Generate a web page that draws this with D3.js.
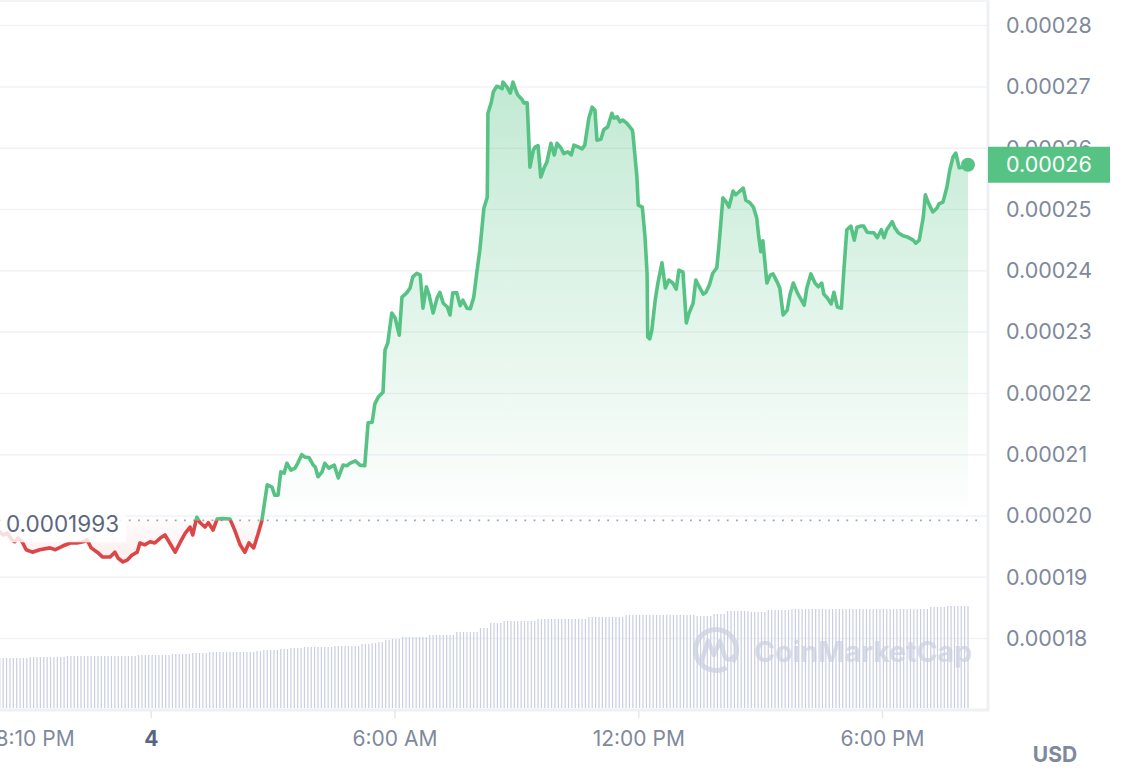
<!DOCTYPE html>
<html>
<head>
<meta charset="utf-8">
<script src="https://cdn.jsdelivr.net/npm/d3@7"></script>
<style>
  body { margin: 0; background: #fff; font-family: Inter, "Noto Sans", sans-serif; }
  svg { display: block; }
</style>
</head>
<body>
<svg id="chart"></svg>
<script>
// ---- data ----
const startTime = new Date(2024, 0, 3, 20, 7);   // first sample, 24h window
const openPrice = 0.0001993;                       // reference (24h ago) price

// minutes after startTime
const minutes = [
  0,10,15,21,28,32,37,43,49,58,
  69,84,92,103,114,124,133,139,145,154,
  162,173,180,185,192,198,205,213,217,224,
  232,239,247,254,261,269,276,284,291,295,
  301,306,313,318,325,331,338,350,357,365,
  372,378,385,391,397,402,405,412,416,421,
  425,430,434,440,446,450,456,461,467,473,
  476,480,486,490,496,504,510,517,523,527,
  535,542,549,554,560,564,569,576,579,583,
  589,594,600,604,611,616,620,626,631,635,
  640,644,650,656,660,665,671,675,679,685,
  690,694,700,705,710,715,719,725,730,731,
  736,739,744,747,752,753,759,764,768,773,
  775,781,784,789,793,798,801,805,809,814,
  818,824,829,833,839,843,849,854,858,864,
  870,874,880,885,889,892,898,902,908,914,
  917,922,926,930,936,944,945,951,953,959,
  963,966,967,970,973,978,982,988,993,998,
  1004,1009,1013,1019,1024,1028,1034,1038,1043,1049,
  1053,1058,1063,1069,1072,1078,1083,1087,1093,1097,
  1102,1108,1112,1118,1123,1128,1131,1134,1137,1143,
  1148,1152,1158,1162,1167,1173,1177,1182,1188,1193,
  1198,1202,1208,1214,1219,1224,1227,1232,1238,1242,
  1247,1253,1257,1261,1267,1272,1276,1282,1286,1291,
  1297,1301,1306,1312,1316,1320,1328,1332,1337,1344,
  1351,1359,1363,1368,1374,1377,1381,1388,1394,1397,
  1403,1409,1413,1418,1422,1427,1433,1440
];

// price in USD
const prices = [
  0.0001969,0.0001974,0.0001969,0.0001972,0.0001961,0.0001958,0.0001964,0.0001958,0.0001945,0.0001941,
  0.0001945,0.0001948,0.0001945,0.0001951,0.0001956,0.0001956,0.0001958,0.0001961,0.0001948,0.0001941,
  0.0001933,0.0001933,0.0001941,0.0001931,0.0001925,0.0001928,0.0001936,0.0001941,0.0001956,0.0001953,
  0.0001958,0.0001956,0.0001964,0.0001969,0.0001956,0.0001941,0.0001956,0.0001972,0.0001982,0.0001969,
  0.0001998,0.0001989,0.0001982,0.0001989,0.0001977,0.0001995,0.0001996,0.0001995,0.0001977,0.0001953,
  0.0001941,0.0001956,0.0001948,0.0001969,0.0001992,0.0002029,0.0002051,0.0002047,0.0002034,0.0002034,
  0.0002072,0.0002070,0.0002086,0.0002075,0.0002078,0.0002086,0.0002100,0.0002096,0.0002095,0.0002083,
  0.0002080,0.0002064,0.0002072,0.0002086,0.0002078,0.0002083,0.0002062,0.0002083,0.0002082,0.0002086,
  0.0002090,0.0002083,0.0002082,0.0002152,0.0002153,0.0002183,0.0002194,0.0002202,0.0002271,0.0002282,
  0.0002331,0.0002323,0.0002295,0.0002357,0.0002364,0.0002372,0.0002390,0.0002396,0.0002393,0.0002339,
  0.0002374,0.0002361,0.0002331,0.0002356,0.0002365,0.0002347,0.0002341,0.0002328,0.0002364,0.0002364,
  0.0002343,0.0002352,0.0002339,0.0002338,0.0002357,0.0002401,0.0002434,0.0002502,0.0002520,0.0002657,
  0.0002675,0.0002692,0.0002701,0.0002700,0.0002697,0.0002708,0.0002700,0.0002690,0.0002708,0.0002692,
  0.0002687,0.0002680,0.0002674,0.0002674,0.0002569,0.0002597,0.0002602,0.0002604,0.0002553,0.0002568,
  0.0002577,0.0002608,0.0002589,0.0002608,0.0002600,0.0002591,0.0002594,0.0002589,0.0002605,0.0002602,
  0.0002599,0.0002605,0.0002649,0.0002667,0.0002662,0.0002613,0.0002615,0.0002630,0.0002635,0.0002657,
  0.0002649,0.0002651,0.0002643,0.0002646,0.0002641,0.0002630,0.0002625,0.0002553,0.0002507,0.0002504,
  0.0002455,0.0002396,0.0002292,0.0002289,0.0002303,0.0002352,0.0002380,0.0002413,0.0002372,0.0002385,
  0.0002380,0.0002370,0.0002401,0.0002398,0.0002315,0.0002331,0.0002347,0.0002385,0.0002374,0.0002362,
  0.0002365,0.0002377,0.0002396,0.0002405,0.0002439,0.0002519,0.0002512,0.0002504,0.0002530,0.0002524,
  0.0002529,0.0002535,0.0002515,0.0002511,0.0002504,0.0002486,0.0002455,0.0002431,0.0002449,0.0002380,
  0.0002393,0.0002395,0.0002382,0.0002372,0.0002328,0.0002336,0.0002361,0.0002380,0.0002364,0.0002354,
  0.0002344,0.0002372,0.0002395,0.0002380,0.0002374,0.0002380,0.0002362,0.0002356,0.0002346,0.0002365,
  0.0002341,0.0002339,0.0002406,0.0002467,0.0002473,0.0002450,0.0002471,0.0002473,0.0002473,0.0002463,
  0.0002462,0.0002462,0.0002454,0.0002467,0.0002454,0.0002467,0.0002480,0.0002470,0.0002462,0.0002457,
  0.0002455,0.0002450,0.0002445,0.0002450,0.0002488,0.0002524,0.0002512,0.0002496,0.0002502,0.0002509,
  0.0002512,0.0002537,0.0002564,0.0002586,0.0002592,0.0002568,0.0002569,0.0002573
];

// volume bars, one every 5 minutes (relative units)
const volumes = [
  50,50,50,50,50,50,50,50,50,50,50,
  51,51,51,51,51,51,51,51,51,51,51,
  52,52,52,52,52,52,52,52,52,52,52,52,52,52,52,52,52,52,52,52,52,
  53,53,53,53,53,53,53,53,53,53,
  54,54,54,54,54,54,
  55,55,55,55,55,
  56,56,56,56,56,56,56,56,56,56,56,56,56,56,
  57,57,
  58,58,58,58,58,
  59,59,59,
  60,60,60,60,
  61,61,61,61,61,61,61,61,61,
  62,62,62,62,62,62,62,62,
  64,64,64,
  65,65,
  66,66,
  68,68,
  69,69,69,
  71,71,71,71,71,71,71,71,
  73,73,73,73,73,73,73,73,
  76,76,76,76,76,76,76,
  80,80,80,
  85,85,85,85,
  87,87,87,87,87,87,87,87,87,87,
  89,89,89,89,89,89,89,89,89,89,89,89,89,89,89,
  91,91,91,91,91,91,91,91,91,91,91,
  93,93,93,93,93,93,93,93,93,93,93,93,93,93,93,93,93,93,93,93,93,
  92,92,92,92,92,
  94,94,94,94,
  97,97,97,97,97,97,97,
  96,96,96,96,96,
  98,98,98,98,98,98,98,
  99,99,99,99,99,99,99,99,99,99,99,99,99,99,99,99,99,99,99,99,
  99,99,99,99,99,99,99,99,99,99,99,99,99,99,99,99,99,99,99,99,99,
  101,101,101,101,101,
  102,102,102,102,102,102,102
];

const yTicks = [0.00018, 0.00019, 0.00020, 0.00021, 0.00022, 0.00023, 0.00024, 0.00025, 0.00026, 0.00027, 0.00028];
const xTickTimes = [
  new Date(2024, 0, 3, 20, 10),
  new Date(2024, 0, 4, 0, 0),
  new Date(2024, 0, 4, 6, 0),
  new Date(2024, 0, 4, 12, 0),
  new Date(2024, 0, 4, 18, 0)
];
const xTickLabels = ["8:10 PM", "4", "6:00 AM", "12:00 PM", "6:00 PM"];

// ---- layout ----
const W = 1132, H = 776;
const plotRight = 987, plotBottom = 710;
const green = "#56c385", red = "#dd4646";
const textColor = "#7f899c";

const data = minutes.map((m, i) => ({ t: d3.timeMinute.offset(startTime, m), p: prices[i] }));
const last = data[data.length - 1];

const x = d3.scaleTime()
  .domain([startTime, d3.timeMinute.offset(startTime, 1440)])
  .range([-7, 968]);
const y = d3.scaleLinear().domain([0.00018, 0.00028]).range([638.6, 25.6]);
const v = d3.scaleLinear().domain([0, 110]).range([708, 598]);
const baseY = y(openPrice);

const svg = d3.select("#chart").attr("width", W).attr("height", H);
const defs = svg.append("defs");

defs.append("clipPath").attr("id", "plot")
  .append("rect").attr("x", 0).attr("y", 0).attr("width", plotRight).attr("height", plotBottom);
defs.append("clipPath").attr("id", "above")
  .append("rect").attr("x", 0).attr("y", 0).attr("width", plotRight).attr("height", baseY);
defs.append("clipPath").attr("id", "below")
  .append("rect").attr("x", 0).attr("y", baseY).attr("width", plotRight).attr("height", plotBottom - baseY);

const gUp = defs.append("linearGradient").attr("id", "gUp")
  .attr("gradientUnits", "userSpaceOnUse").attr("x1", 0).attr("x2", 0)
  .attr("y1", y(0.00027)).attr("y2", baseY);
gUp.append("stop").attr("offset", 0).attr("stop-color", green).attr("stop-opacity", 0.36);
gUp.append("stop").attr("offset", 1).attr("stop-color", green).attr("stop-opacity", 0.0);

const gDown = defs.append("linearGradient").attr("id", "gDown")
  .attr("gradientUnits", "userSpaceOnUse").attr("x1", 0).attr("x2", 0)
  .attr("y1", baseY).attr("y2", y(0.000192));
gDown.append("stop").attr("offset", 0).attr("stop-color", red).attr("stop-opacity", 0.02);
gDown.append("stop").attr("offset", 1).attr("stop-color", red).attr("stop-opacity", 0.10);

// gridlines
svg.append("g").selectAll("line").data(yTicks).join("line")
  .attr("x1", 0).attr("x2", plotRight)
  .attr("y1", d => y(d)).attr("y2", d => y(d))
  .attr("stroke", "#f1f2f5").attr("stroke-width", 1.5);

// watermark
const wm = svg.append("g").attr("fill", "none").attr("stroke", "#d9dde8");
wm.append("path")
  .attr("d", d3.arc()({ innerRadius: 18, outerRadius: 23, startAngle: 2.6, endAngle: 2 * Math.PI + 2.2 }))
  .attr("transform", "translate(716,650)").attr("fill", "#d9dde8").attr("stroke", "none");
wm.append("path")
  .attr("d", "M702,660 L708,641 L714,655 L720,641 L725,657 Q728,662 733,657")
  .attr("stroke-width", 4.5).attr("stroke-linejoin", "round").attr("stroke-linecap", "round");
svg.append("text").attr("x", 754).attr("y", 662)
  .attr("font-size", 28.5).attr("font-weight", 700).attr("fill", "#d9dde8")
  .text("CoinMarketCap");

// volume bars
svg.append("g").attr("clip-path", "url(#plot)")
  .selectAll("rect").data(volumes).join("rect")
  .attr("x", (d, i) => x(d3.timeMinute.offset(startTime, i * 5)) - 0.6)
  .attr("width", 1.2)
  .attr("y", d => v(d))
  .attr("height", d => v(0) - v(d))
  .attr("fill", "#c9cee1");

// areas
const area = d3.area().x(d => x(d.t)).y0(baseY).y1(d => y(d.p));
const line = d3.line().x(d => x(d.t)).y(d => y(d.p));
const plot = svg.append("g").attr("clip-path", "url(#plot)");
plot.append("g").attr("clip-path", "url(#above)")
  .append("path").attr("d", area(data)).attr("fill", "url(#gUp)");
plot.append("g").attr("clip-path", "url(#below)")
  .append("path").attr("d", area(data)).attr("fill", "url(#gDown)");

// reference dotted line
plot.append("line")
  .attr("x1", 0).attr("x2", 982).attr("y1", baseY).attr("y2", baseY)
  .attr("stroke", "#9aa3b5").attr("stroke-width", 1.8)
  .attr("stroke-dasharray", "1.8,7.4");

// price line, green above / red below the reference
plot.append("g").attr("clip-path", "url(#above)")
  .append("path").attr("d", line(data)).attr("fill", "none")
  .attr("stroke", green).attr("stroke-width", 3.6).attr("stroke-linejoin", "round");
plot.append("g").attr("clip-path", "url(#below)")
  .append("path").attr("d", line(data)).attr("fill", "none")
  .attr("stroke", red).attr("stroke-width", 3.6).attr("stroke-linejoin", "round");

// reference price label
svg.append("rect").attr("x", 0).attr("y", baseY - 15).attr("width", 126).attr("height", 37)
  .attr("fill", "#fff").attr("fill-opacity", 0.82);
svg.append("text").attr("x", 6).attr("y", baseY + 4).attr("dy", "0.35em")
  .attr("font-size", 22.5).attr("fill", "#5a677e").text("0.0001993");

// last point
svg.append("circle").attr("cx", x(last.t)).attr("cy", y(last.p)).attr("r", 7).attr("fill", green);

// frame
svg.append("line").attr("x1", plotRight + 1).attr("x2", plotRight + 1).attr("y1", 0).attr("y2", plotBottom + 1)
  .attr("stroke", "#eef0f4").attr("stroke-width", 3);
svg.append("line").attr("x1", 0).attr("x2", plotRight + 2).attr("y1", plotBottom).attr("y2", plotBottom)
  .attr("stroke", "#eef0f4").attr("stroke-width", 3);
svg.append("line").attr("x1", 0).attr("x2", plotRight + 2).attr("y1", 1).attr("y2", 1)
  .attr("stroke", "#f3f4f7").attr("stroke-width", 2);

// y axis
const yAxis = svg.append("g").attr("transform", "translate(1006,0)")
  .call(d3.axisRight(y).tickValues(yTicks).tickFormat(d3.format(".5f")).tickSize(0).tickPadding(0));
yAxis.select(".domain").remove();
yAxis.selectAll("text").attr("font-size", 21.5).attr("font-family", "Inter, sans-serif").attr("fill", textColor);

// x axis
const xAxis = svg.append("g").attr("transform", `translate(0,${plotBottom + 1})`)
  .call(d3.axisBottom(x).tickValues(xTickTimes).tickFormat((d, i) => xTickLabels[i]).tickSize(7).tickPadding(13));
xAxis.select(".domain").remove();
xAxis.selectAll(".tick line").attr("stroke", "#e4e7ec").attr("stroke-width", 1.5);
xAxis.selectAll(".tick").filter((d, i) => i === 0).select("line").remove();
xAxis.selectAll("text").attr("font-size", 21).attr("font-family", "Inter, sans-serif").attr("fill", textColor);
xAxis.selectAll("text").filter((d, i) => i === 0).attr("text-anchor", "start").attr("dx", 0);
xAxis.selectAll("text").filter((d, i) => i === 1).attr("font-weight", 700).attr("fill", "#58667e");

// current price badge
svg.append("rect").attr("x", 988).attr("y", y(last.p) - 18).attr("width", 122).attr("height", 36).attr("fill", green);
svg.append("text").attr("x", 1006).attr("y", y(last.p)).attr("dy", "0.35em")
  .attr("font-size", 21.5).attr("fill", "#fff").text(d3.format(".5f")(last.p));

// currency
svg.append("text").attr("x", 1055).attr("y", 755).attr("dy", "0.35em").attr("text-anchor", "middle")
  .attr("font-size", 21).attr("font-weight", 700).attr("fill", textColor).text("USD");
</script>
</body>
</html>
